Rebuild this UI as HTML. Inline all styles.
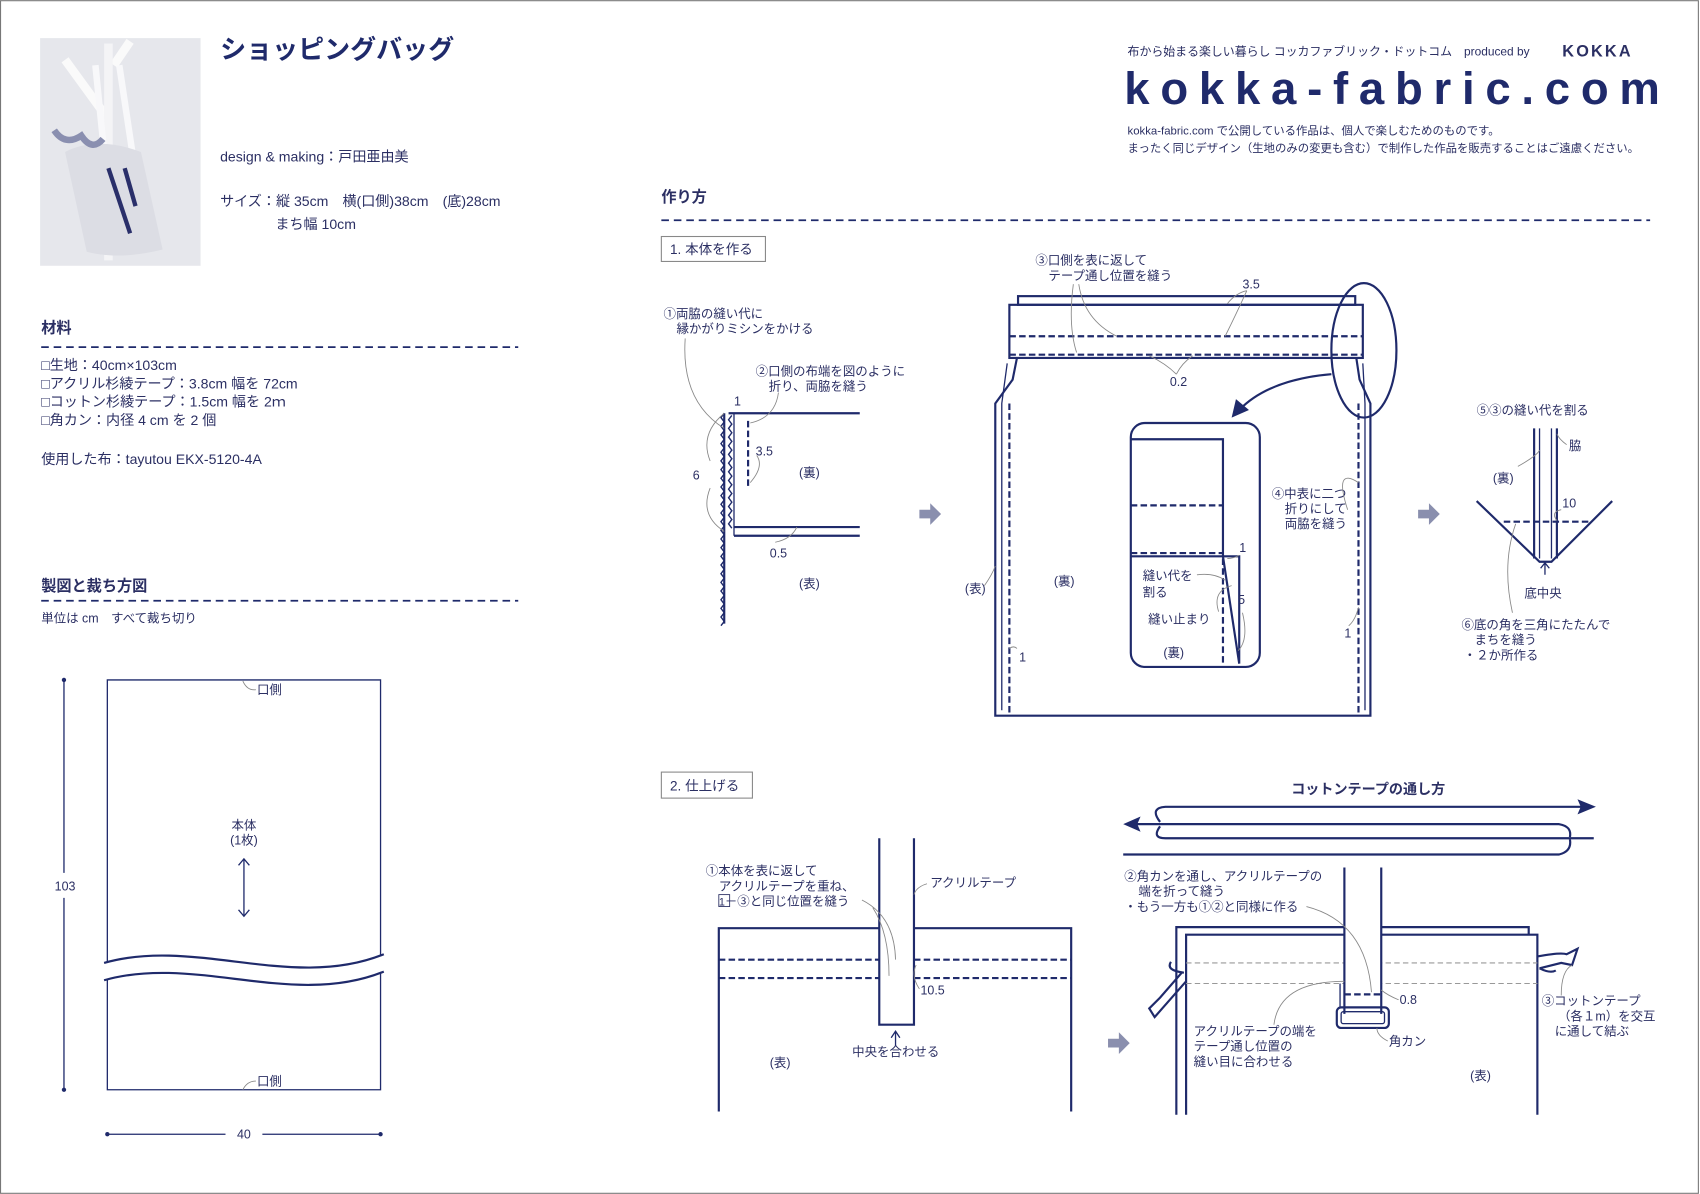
<!DOCTYPE html>
<html><head><meta charset="utf-8"><style>
html,body{margin:0;padding:0;background:#fff}
svg{display:block}
text{font-family:"Liberation Sans","Noto Sans CJK JP",sans-serif;fill:#2b2f63}
.s{font-size:11.5px}
.n{stroke:#1f2a6b;fill:none;stroke-width:2}
.t{stroke:#1f2a6b;fill:none;stroke-width:1.2}
.d{stroke:#1f2a6b;fill:none;stroke-width:2;stroke-dasharray:6 3}
.g{stroke:#888;fill:none;stroke-width:0.8}
.gd{stroke:#999;fill:none;stroke-width:1;stroke-dasharray:5 3}
.z{stroke:#1f2a6b;fill:none;stroke-width:1.3}
</style></head><body>
<svg width="1700" height="1194" viewBox="0 0 1568 1101" xmlns="http://www.w3.org/2000/svg">
<rect x="0.5" y="0.5" width="1566" height="1100" fill="#fff" stroke="#777" stroke-width="1"/>
<!-- photo -->
<rect x="37" y="35" width="148" height="210" fill="#e6e7ec"/>
<path d="M60,55 L100,110 M120,38 L105,60" stroke="#fafafa" stroke-width="8"/>
<rect x="96" y="40" width="8" height="200" fill="#f4f4f6"/>
<path d="M88,60 L98,160 M110,60 L125,160" stroke="#f8f8fa" stroke-width="6" fill="none"/>
<path d="M60,140 Q90,125 130,140 L150,230 Q110,240 80,232 Z" fill="#dcdde4"/>
<path d="M100,155 L120,215 M115,155 L125,190" stroke="#2a2f6a" stroke-width="4"/>
<path d="M50,120 Q60,135 75,125 Q85,140 95,128" stroke="#8a8fb0" stroke-width="6" fill="none"/>

<text x="203" y="54" font-size="24" font-weight="bold" style="fill:#1f2a6b">ショッピングバッグ</text>
<text x="203" y="149" font-size="13">design &amp; making：戸田亜由美</text>
<text x="203" y="190" font-size="13">サイズ：縦 35cm　横(口側)38cm　(底)28cm</text>
<text x="254" y="211" font-size="13">まち幅 10cm</text>

<text x="38" y="307" font-size="14" font-weight="bold">材料</text>
<line x1="38" y1="320" x2="478" y2="320" stroke="#1f2a6b" stroke-width="1.6" stroke-dasharray="7 4.5"/>
<text x="38" y="341" font-size="13">□生地：40cm×103cm</text>
<text x="38" y="358" font-size="13">□アクリル杉綾テープ：3.8cm 幅を 72cm</text>
<text x="38" y="375" font-size="13">□コットン杉綾テープ：1.5cm 幅を 2ｍ</text>
<text x="38" y="392" font-size="13">□角カン：内径 4 cm を 2 個</text>
<text x="38" y="428" font-size="13">使用した布：tayutou EKX-5120-4A</text>

<text x="38" y="545" font-size="14" font-weight="bold">製図と裁ち方図</text>
<line x1="38" y1="554" x2="478" y2="554" stroke="#1f2a6b" stroke-width="1.6" stroke-dasharray="7 4.5"/>
<text x="38" y="574" font-size="11.5">単位は cm　すべて裁ち切り</text>

<!-- pattern -->
<path class="t" d="M99,887 L99,627 L351,627 L351,881"/>
<path class="t" d="M99,903 L99,1005 L351,1005 L351,897"/>
<path class="n" d="M96,888 C180,864 270,914 354,880"/>
<path class="n" d="M96,904 C180,880 270,930 354,896"/>
<text x="237" y="640" class="s">口側</text><path class="g" d="M224,628 Q228,637 236,636"/>
<text x="237" y="1001" class="s">口側</text><path class="g" d="M224,1005 Q228,997 236,997"/>
<text x="225" y="765" class="s" text-anchor="middle">本体</text>
<text x="225" y="779" class="s" text-anchor="middle">(1枚)</text>
<line class="t" x1="225" y1="792" x2="225" y2="845"/>
<path class="t" d="M220,798 L225,792 L230,798 M220,839 L225,845 L230,839"/>
<line class="t" x1="59" y1="627" x2="59" y2="805"/><line class="t" x1="59" y1="828" x2="59" y2="1005"/>
<circle cx="59" cy="627" r="2" fill="#1f2a6b"/><circle cx="59" cy="1005" r="2" fill="#1f2a6b"/>
<text x="60" y="821" class="s" text-anchor="middle">103</text>
<line class="t" x1="99" y1="1046" x2="208" y2="1046"/><line class="t" x1="242" y1="1046" x2="351" y2="1046"/>
<circle cx="99" cy="1046" r="2" fill="#1f2a6b"/><circle cx="351" cy="1046" r="2" fill="#1f2a6b"/>
<text x="225" y="1050" class="s" text-anchor="middle">40</text>

<!-- header right -->
<text x="1040" y="51" font-size="11">布から始まる楽しい暮らし コッカファブリック・ドットコム　produced by</text>
<text x="1441" y="52" font-size="15" font-weight="bold" font-family="Liberation Serif" letter-spacing="2">KOKKA</text>
<text x="1037" y="96" font-size="42" font-weight="bold" textLength="494" lengthAdjust="spacing" style="fill:#1f2a6b">kokka-fabric.com</text>
<text x="1040" y="124" font-size="10.5">kokka-fabric.com で公開している作品は、個人で楽しむためのものです。</text>
<text x="1040" y="140" font-size="10.5">まったく同じデザイン（生地のみの変更も含む）で制作した作品を販売することはご遠慮ください。</text>

<text x="610" y="186" font-size="14" font-weight="bold">作り方</text>
<line x1="610" y1="203" x2="1522" y2="203" stroke="#1f2a6b" stroke-width="1.6" stroke-dasharray="7 4.5"/>
<rect x="610" y="218" width="96" height="23" fill="none" stroke="#888"/>
<text x="618" y="234" font-size="12.5">1. 本体を作る</text>
<rect x="610" y="712" width="84" height="24" fill="none" stroke="#888"/>
<text x="618" y="729" font-size="12.5">2. 仕上げる</text>

<!-- gray arrows -->
<g fill="#8a8fae">
<path d="M848,470 h10 v-6 l10,10 l-10,10 v-6 h-10 z"/>
<path d="M1308,470 h10 v-6 l10,10 l-10,10 v-6 h-10 z"/>
<path d="M1022,958 h10 v-6 l10,10 l-10,10 v-6 h-10 z"/>
</g>

<!-- diagram 1 left -->
<path class="z" d="M668,381 l-3,4 l3,4 l-3,4 l3,4 l-3,4 l3,4 l-3,4 l3,4 l-3,4 l3,4 l-3,4 l3,4 l-3,4 l3,4 l-3,4 l3,4 l-3,4 l3,4 l-3,4 l3,4 l-3,4 l3,4 l-3,4 l3,4 l-3,4 l3,4 l-3,4 l3,4 l-3,4 l3,4 l-3,4 l3,4 l-3,4 l3,4 l-3,4 l3,4 l-3,4 l3,4 l-3,4 l3,4 l-3,4 l3,4 l-3,4 l3,4 l-3,4 l3,4 l-3,4 l3,4 l-3,4"/>
<line class="n" x1="668" y1="381" x2="668" y2="575"/>
<path class="z" d="M675,383 l-3,4 l3,4 l-3,4 l3,4 l-3,4 l3,4 l-3,4 l3,4 l-3,4 l3,4 l-3,4 l3,4 l-3,4 l3,4 l-3,4 l3,4 l-3,4 l3,4 l-3,4 l3,4 l-3,4 l3,4 l-3,4 l3,4 l-3,4 l3,4"/>
<line class="t" x1="677" y1="381" x2="677" y2="494"/>
<line class="n" x1="672" y1="381" x2="793" y2="381"/>
<line class="n" x1="677" y1="486" x2="793" y2="486"/>
<line class="n" x1="677" y1="494" x2="793" y2="494"/>
<line class="d" x1="690" y1="388" x2="690" y2="450"/>
<text x="612" y="293" class="s">①両脇の縫い代に</text>
<text x="624" y="307" class="s">縁かがりミシンをかける</text>
<text x="697" y="346" class="s">②口側の布端を図のように</text>
<text x="709" y="360" class="s">折り、両脇を縫う</text>
<text x="677" y="374" class="s">1</text>
<text x="697" y="420" class="s">3.5</text>
<text x="639" y="442" class="s">6</text>
<text x="737" y="440" class="s">(裏)</text>
<text x="710" y="514" class="s">0.5</text>
<text x="737" y="542" class="s">(表)</text>
<path class="g" d="M632,312 Q628,370 668,395 M655,425 Q645,400 668,381 M655,450 Q645,475 668,490 M718,362 Q715,385 692,390 M692,445 Q705,430 698,420 M715,500 Q730,497 735,486"/>

<!-- diagram 1 body -->
<rect class="n" x="939" y="273" width="311" height="8"/>
<rect class="n" x="931" y="281" width="326" height="49"/>
<line class="d" x1="931" y1="310" x2="1257" y2="310"/>
<line class="d" x1="931" y1="327" x2="1257" y2="327"/>
<path class="n" d="M938,330 L934,350 L918,372 L918,660 L1264,660 L1264,372 L1254,350 L1251,330"/>
<path class="t" d="M929,335 L924,372 L924,655 M1257,335 L1259,372 L1259,655"/>
<line class="d" x1="931" y1="372" x2="931" y2="658"/>
<line class="d" x1="1253" y1="372" x2="1253" y2="658"/>
<ellipse class="n" cx="1258" cy="323" rx="30" ry="62"/>
<path class="n" d="M1228,345 Q1170,350 1143,378" stroke-width="3"/>
<path d="M1136,385 L1140,368 L1152,378 Z" fill="#1f2a6b"/>
<text x="955" y="244" class="s">③口側を表に返して</text>
<text x="967" y="258" class="s">テープ通し位置を縫う</text>
<text x="1146" y="266" class="s">3.5</text>
<text x="1079" y="356" class="s">0.2</text>
<text x="1173" y="459" class="s">④中表に二つ</text>
<text x="1185" y="473" class="s">折りにして</text>
<text x="1185" y="487" class="s">両脇を縫う</text>
<text x="890" y="547" class="s">(表)</text>
<text x="972" y="540" class="s">(裏)</text>
<text x="940" y="610" class="s">1</text>
<text x="1240" y="588" class="s">1</text>
<path class="g" d="M990,262 Q985,300 993,325 M995,262 Q1000,295 1030,310 M1150,268 Q1140,290 1130,310 M1150,268 Q1140,270 1132,280 M1085,345 Q1075,335 1060,328 M1085,345 Q1090,335 1100,328 M1243,470 Q1230,430 1253,445 M1244,577 Q1250,572 1253,560 M938,598 Q935,595 931,598 M908,540 Q915,530 918,522"/>
<rect class="n" x="1043" y="390" width="119" height="225" rx="13"/>
<path class="n" d="M1043,405 L1128,405 L1128,513 M1043,513 L1143,513 L1143,612 M1128,513 L1143,612"/>
<line class="d" x1="1043" y1="466" x2="1128" y2="466"/>
<line class="d" x1="1043" y1="510" x2="1128" y2="510"/>
<line class="d" x1="1128" y1="515" x2="1128" y2="612"/>
<text x="1054" y="535" class="s">縫い代を</text>
<text x="1054" y="550" class="s">割る</text>
<text x="1143" y="509" class="s">1</text>
<text x="1142" y="557" class="s">5</text>
<text x="1059" y="575" class="s">縫い止まり</text>
<text x="1073" y="606" class="s">(裏)</text>
<path class="g" d="M1104,530 Q1120,528 1130,535 M1124,564 Q1118,545 1136,540 M1143,512 Q1138,515 1132,515 M1146,565 Q1152,590 1142,600"/>

<!-- diagram 1 right -->
<path class="n" d="M1415,395 L1415,515 M1436,395 L1436,515 M1362,462 L1420,518 L1431,518 L1487,462"/>
<path class="t" d="M1420,395 L1420,515 M1431,395 L1431,515"/>
<line class="d" x1="1387" y1="481" x2="1465" y2="481"/>
<path class="t" d="M1425,530 L1425,520 M1421,524 L1425,519 L1429,524"/>
<text x="1362" y="382" class="s">⑤③の縫い代を割る</text>
<text x="1447" y="415" class="s">脇</text>
<text x="1377" y="445" class="s">(裏)</text>
<text x="1441" y="468" class="s">10</text>
<text x="1406" y="551" class="s">底中央</text>
<text x="1348" y="580" class="s">⑥底の角を三角にたたんで</text>
<text x="1360" y="594" class="s">まちを縫う</text>
<text x="1350" y="608" class="s">・２か所作る</text>
<path class="g" d="M1445,410 Q1438,405 1436,400 M1400,430 Q1418,420 1420,415 M1395,565 Q1385,520 1398,483 M1440,470 Q1430,472 1436,480"/>

<!-- diagram 2 left -->
<path class="n" d="M663,1025 L663,856 L988,856 L988,1025"/>
<line class="d" x1="663" y1="885" x2="988" y2="885"/>
<line class="d" x1="663" y1="902" x2="988" y2="902"/>
<rect x="811" y="773" width="32" height="172" fill="#fff" stroke="none"/>
<path class="n" d="M811,773 L811,945 L843,945 L843,773"/>
<path class="t" d="M826,965 L826,952 M822,957 L826,951 L830,957"/>
<text x="651" y="807" class="s">①本体を表に返して</text>
<text x="663" y="821" class="s">アクリルテープを重ね、</text>
<text x="663" y="835" class="s"><tspan style="font-size:10px">1</tspan>－③と同じ位置を縫う</text>
<rect x="663" y="825" width="10" height="11" fill="none" stroke="#2b2f63" stroke-width="0.8"/>
<text x="858" y="818" class="s">アクリルテープ</text>
<text x="849" y="917" class="s">10.5</text>
<text x="786" y="974" class="s">中央を合わせる</text>
<text x="710" y="984" class="s">(表)</text>
<path class="g" d="M795,830 Q825,845 826,885 M805,837 Q820,860 820,900 M855,815 Q845,818 843,825 M848,912 Q840,900 845,890"/>

<!-- diagram 2 right : threading -->
<text x="1262" y="732" font-size="13" font-weight="bold" text-anchor="middle">コットンテープの通し方</text>
<path class="n" d="M1070,758 Q1060,745 1075,744 L1462,744"/>
<path d="M1472,744 L1455,737 L1458,744 L1455,751 Z" fill="#1f2a6b"/>
<path class="n" d="M1046,760 L1438,760 Q1450,762 1448,772"/>
<path d="M1036,760 L1052,753 L1049,760 L1052,767 Z" fill="#1f2a6b"/>
<path class="n" d="M1070,762 Q1062,773 1075,773 L1470,773"/>
<path class="n" d="M1036,788 L1438,788 Q1450,785 1448,774"/>

<!-- diagram 2 right : body -->
<path class="n" d="M1085,1028 L1085,855 L1410,855 L1410,862"/>
<path class="n" d="M1094,1028 L1094,862 L1418,862 L1418,1028"/>
<line class="gd" x1="1094" y1="888" x2="1418" y2="888"/>
<line class="gd" x1="1094" y1="907" x2="1418" y2="907"/>
<rect x="1240" y="800" width="34" height="135" fill="#fff"/>
<path class="n" d="M1240,800 L1240,935 M1274,800 L1274,935"/>
<line class="d" x1="1240" y1="917" x2="1274" y2="917"/>
<path class="t" d="M1236,907 L1236,930"/>
<rect class="n" x="1233" y="929" width="48" height="19" rx="4"/>
<rect class="t" x="1237" y="933" width="40" height="11" rx="2"/>
<!-- ties -->
<path class="n" d="M1080,887 Q1075,895 1092,897 M1090,897 L1070,920 L1060,930 L1065,938 L1072,930 L1094,905" stroke-width="1.6"/>
<path class="n" d="M1418,882 Q1440,878 1445,880 L1455,875 L1450,890 L1440,888 L1420,893 M1420,893 Q1430,898 1435,895" stroke-width="1.6"/>
<text x="1037" y="812" class="s">②角カンを通し、アクリルテープの</text>
<text x="1050" y="826" class="s">端を折って縫う</text>
<text x="1037" y="840" class="s">・もう一方も①②と同様に作る</text>
<text x="1291" y="926" class="s">0.8</text>
<text x="1101" y="955" class="s">アクリルテープの端を</text>
<text x="1101" y="969" class="s">テープ通し位置の</text>
<text x="1101" y="983" class="s">縫い目に合わせる</text>
<text x="1281" y="964" class="s">角カン</text>
<text x="1422" y="927" class="s">③コットンテープ</text>
<text x="1437" y="941" class="s">（各１m）を交互</text>
<text x="1434" y="955" class="s">に通して結ぶ</text>
<text x="1356" y="996" class="s">(表)</text>
<path class="g" d="M1205,836 Q1260,850 1265,915 M1175,945 Q1180,905 1240,905 M1290,922 Q1280,918 1274,913 M1280,960 Q1270,955 1270,948 M1440,918 Q1440,895 1450,890"/>
</svg>
</body></html>
